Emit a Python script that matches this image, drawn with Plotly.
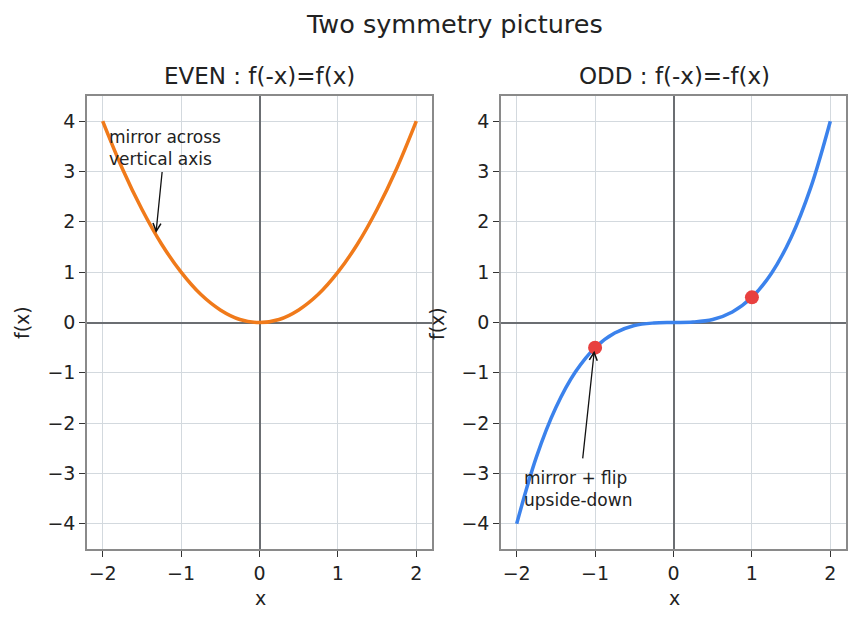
import plotly.graph_objects as go

# ---- data ----
x_vals = [-2.0, -1.75, -1.5, -1.25, -1.0, -0.75, -0.5, -0.25, 0.0,
          0.25, 0.5, 0.75, 1.0, 1.25, 1.5, 1.75, 2.0]
even_y = [4.0, 3.06, 2.25, 1.56, 1.0, 0.56, 0.25, 0.06, 0.0,
          0.06, 0.25, 0.56, 1.0, 1.56, 2.25, 3.06, 4.0]
odd_y = [-4.0, -2.68, -1.69, -0.98, -0.5, -0.21, -0.06, -0.01, 0.0,
         0.01, 0.06, 0.21, 0.5, 0.98, 1.69, 2.68, 4.0]
pts_x = [1.0, -1.0]
pts_y = [0.5, -0.5]

title = "Two symmetry pictures"
sub_titles = ["EVEN : f(-x)=f(x)", "ODD : f(-x)=-f(x)"]
tick_vals_x = [-2, -1, 0, 1, 2]
tick_vals_y = [-4, -3, -2, -1, 0, 1, 2, 3, 4]

FONT = "DejaVu Sans"
ORANGE = "#f07a1a"
BLUE = "#3b82ec"
RED = "#e8403f"
GRID = "#d3d9de"
SPINE = "#8a8a8a"
ZERO = "#6b6e72"
TICK_SIZE = 19

W, H = 860, 624
xdom1 = [87 / W, 432 / W]
xdom2 = [501 / W, 846 / W]
ydom = [1 - 549 / H, 1 - 96 / H]

fig = go.Figure()
fig.add_trace(go.Scatter(x=x_vals, y=even_y, mode="lines", line=dict(color=ORANGE, width=3.5, shape="spline"),
                         xaxis="x", yaxis="y", showlegend=False))
fig.add_trace(go.Scatter(x=x_vals, y=odd_y, mode="lines", line=dict(color=BLUE, width=3.5, shape="spline"),
                         xaxis="x2", yaxis="y2", showlegend=False))
fig.add_trace(go.Scatter(x=pts_x, y=pts_y, mode="markers", marker=dict(color=RED, size=14),
                         xaxis="x2", yaxis="y2", showlegend=False))

def common():
    return dict(showgrid=True, gridcolor=GRID, gridwidth=1,
                zeroline=True, zerolinecolor=ZERO, zerolinewidth=1.5,
                showline=True, linecolor=SPINE, linewidth=1.5, mirror=True,
                ticks="outside", ticklen=6, tickwidth=1.3, tickcolor="#333",
                tickfont=dict(family=FONT, size=TICK_SIZE, color="#222"), automargin=False)

def xax(dom, anchor):
    d = dict(domain=dom, anchor=anchor, range=[-2.2, 2.2], tickvals=tick_vals_x)
    d.update(common())
    return d

def yax(anchor):
    d = dict(domain=ydom, anchor=anchor, range=[-4.5, 4.5], tickvals=tick_vals_y)
    d.update(common())
    return d

fig.update_layout(
    width=W, height=H, margin=dict(l=0, r=0, t=0, b=0),
    paper_bgcolor="white", plot_bgcolor="white",
    font=dict(family=FONT, color="#222"),
    xaxis=xax(xdom1, "y"), yaxis=yax("x"),
    xaxis2=xax(xdom2, "y2"), yaxis2=yax("x2"),
    showlegend=False,
)

ann = []
ann.append(dict(text=title, xref="paper", yref="paper", x=454 / W, y=1 - 24 / H,
                xanchor="center", yanchor="middle", showarrow=False,
                font=dict(family=FONT, size=25.5, color="#222")))
for t, cx in zip(sub_titles, [259, 674]):
    ann.append(dict(text=t, xref="paper", yref="paper", x=cx / W, y=1 - 76 / H,
                    xanchor="center", yanchor="middle", showarrow=False,
                    font=dict(family=FONT, size=23, color="#222")))
for cx in [260, 674]:
    ann.append(dict(text="x", xref="paper", yref="paper", x=cx / W, y=1 - 598 / H,
                    xanchor="center", yanchor="middle", showarrow=False,
                    font=dict(family=FONT, size=TICK_SIZE, color="#222")))
for cx in [22, 437]:
    ann.append(dict(text="f(x)", xref="paper", yref="paper", x=cx / W, y=1 - 323 / H,
                    xanchor="center", yanchor="middle", showarrow=False, textangle=-90,
                    font=dict(family=FONT, size=TICK_SIZE, color="#222")))

# left annotation
ann.append(dict(text="mirror across<br>vertical axis", xref="x", yref="y", x=-1.95, y=3.92,
                xanchor="left", yanchor="top", align="left", showarrow=False,
                font=dict(family=FONT, size=17, color="#222")))
ann.append(dict(text="", xref="x", yref="y", x=-1.32, y=1.78, ax=-1.24, ay=3.02,
                axref="x", ayref="y", showarrow=True, arrowhead=5, arrowsize=1.2,
                arrowwidth=1.3, arrowcolor="#111"))
# right annotation
ann.append(dict(text="mirror + flip<br>upside-down", xref="x2", yref="y2", x=-1.93, y=-2.86,
                xanchor="left", yanchor="top", align="left", showarrow=False,
                font=dict(family=FONT, size=17, color="#222")))
ann.append(dict(text="", xref="x2", yref="y2", x=-1.01, y=-0.56, ax=-1.16, ay=-2.73,
                axref="x2", ayref="y2", showarrow=True, arrowhead=5, arrowsize=1.2,
                arrowwidth=1.3, arrowcolor="#111"))
fig.update_layout(annotations=ann)

fig.write_html("out.html")
